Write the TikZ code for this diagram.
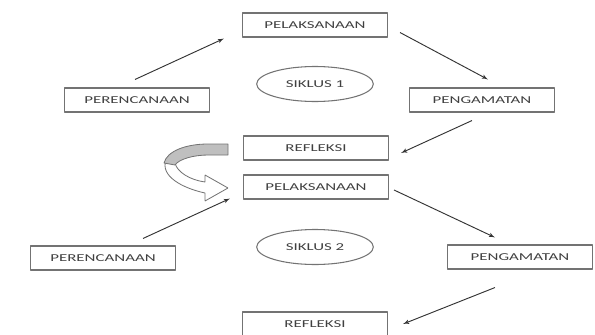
\documentclass[tikz,border=0pt]{standalone}
\usepackage{fontspec}
\newfontfamily\boxfont[FakeStretch=1.6]{Carlito}
\usetikzlibrary{arrows,calc,shapes,positioning}

\begin{document}
\begin{tikzpicture}[x=0.03cm,y=-0.03cm,>=latex',line join=bevel,
  kotak/.style={draw=black!55,line width=.9pt,minimum width=4.35cm,minimum height=.72cm,inner sep=0pt,
    font=\boxfont\fontsize{9}{10}\selectfont,text=black!75},
  siklus/.style={ellipse,draw=black!55,line width=.9pt,minimum width=3.5cm,minimum height=1.05cm,inner sep=0pt,
    font=\boxfont\fontsize{9}{10}\selectfont,text=black!75},
  panah/.style={->,draw=black!80,line width=.8pt}]
\useasboundingbox (0,0) rectangle (595,334);

% siklus 1
\node [kotak] at (315,25) (pel1) {PELAKSANAAN};
\node [kotak] at (137,100) (per1) {PERENCANAAN};
\node [kotak] at (482,100) (pen1) {PENGAMATAN};
\node [siklus] at (315,84) (sik1) {SIKLUS 1};
\node [kotak] at (316,148) (ref1) {REFLEKSI};

% siklus 2
\node [kotak] at (316,187) (pel2) {PELAKSANAAN};
\node [kotak] at (103,258) (per2) {PERENCANAAN};
\node [kotak] at (520,257) (pen2) {PENGAMATAN};
\node [siklus] at (315,247) (sik2) {SIKLUS 2};
\node [kotak] at (315,324) (ref2) {REFLEKSI};

\draw [panah] ($(per1.north)+(-2,-8)$) -- ($(pel1.south west)+(-18,1)$);
\draw [panah] ($(pel1.south east)+(12,-5)$) -- ($(pen1.north)+(6,-8)$);
\draw [panah] ($(pen1.south)+(-10,8)$) -- ($(ref1.east)+(12,5)$);

\draw [panah] ($(per2.north)+(40,-7)$) -- ($(pel2.south west)+(-13,-1)$);
\draw [panah] ($(pel2.east)+(5,3)$) -- ($(pen2.north)+(-25,-7)$);
\draw [panah] ($(pen2.south)+(-25,18)$) -- ($(ref2.east)+(15,0)$);

% panah lengkung refleksi -> pelaksanaan
\draw [draw=black!55,fill=white,line width=.7pt]
  (166,160) .. controls (160,176) and (182,188) .. (205,193) -- (205,201) -- (228,188)
  -- (205,175) -- (205,182) .. controls (190,180) and (177,172) .. (175,163) -- cycle;
\draw [draw=black!55,fill=black!25,line width=.7pt]
  (228,144) -- (208,144) .. controls (186,144) and (167,151) .. (164,163)
  -- (175,165) .. controls (179,159) and (194,155) .. (208,155) -- (228,155) -- cycle;
\end{tikzpicture}
\end{document}
